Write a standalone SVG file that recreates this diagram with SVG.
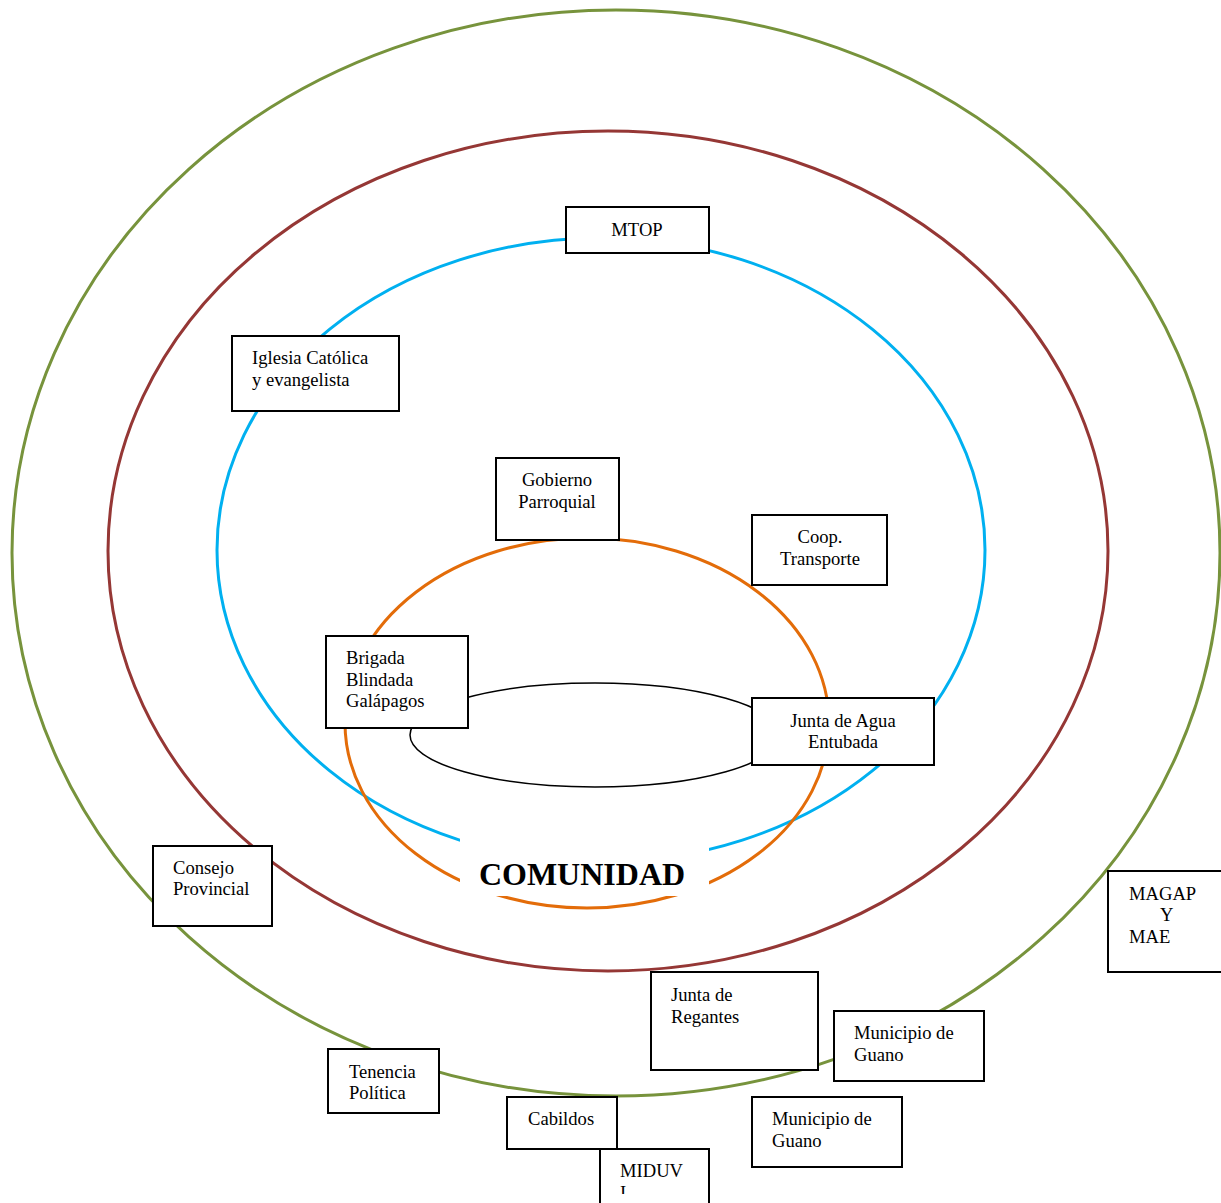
<svg xmlns="http://www.w3.org/2000/svg" width="1221" height="1203" viewBox="0 0 1221 1203">
<style>
.ring{fill:none;stroke-width:3}
.box rect{fill:#fff;stroke:#000;stroke-width:2}
.box text,.lbl{font-family:"Liberation Serif","Times New Roman",serif;font-size:18.6px;fill:#000}
.c{text-anchor:middle}
</style>
<defs>
<clipPath id="clipMid"><rect x="600" y="1149" width="110" height="45"/></clipPath>
</defs>
<rect width="1221" height="1203" fill="#fff"/>
<g id="connectors">
<ellipse class="ring" cx="616" cy="553" rx="604" ry="543" stroke="#77933C"/>
<ellipse class="ring" cx="608" cy="551" rx="500" ry="420" stroke="#953735"/>
<ellipse class="ring" cx="601" cy="550" rx="384" ry="312" stroke="#00B0F0"/>
<ellipse class="ring" cx="587" cy="723" rx="242" ry="185" stroke="#E36C09"/>
<ellipse cx="595" cy="735" rx="185" ry="52" fill="none" stroke="#000" stroke-width="1.5"/>
</g>
<g id="comunidad">
<rect x="460" y="838" width="249" height="58" fill="#fff"/>
<text x="582" y="885" text-anchor="middle" font-family="'Liberation Serif','Times New Roman',serif" font-size="32" font-weight="bold">COMUNIDAD</text>
</g>
<g id="mtop" class="box"><rect x="566" y="207" width="143" height="46"/><text class="c" x="637" y="236">MTOP</text></g>
<g id="iglesia" class="box"><rect x="232" y="336" width="167" height="75"/><text x="252" y="364">Iglesia Católica</text><text x="252" y="386">y evangelista</text></g>
<g id="gobierno" class="box"><rect x="496" y="458" width="123" height="82"/><text class="c" x="557" y="486">Gobierno</text><text class="c" x="557" y="508">Parroquial</text></g>
<g id="coop" class="box"><rect x="752" y="515" width="135" height="70"/><text class="c" x="820" y="543">Coop.</text><text class="c" x="820" y="565">Transporte</text></g>
<g id="brigada" class="box"><rect x="326" y="636" width="142" height="92"/><text x="346" y="664">Brigada</text><text x="346" y="686">Blindada</text><text x="346" y="707">Galápagos</text></g>
<g id="juntaagua" class="box"><rect x="752" y="698" width="182" height="67"/><text class="c" x="843" y="727">Junta de Agua</text><text class="c" x="843" y="748">Entubada</text></g>
<g id="consejo" class="box"><rect x="153" y="846" width="119" height="80"/><text x="173" y="874">Consejo</text><text x="173" y="895">Provincial</text></g>
<g id="magap" class="box"><rect x="1108" y="871" width="120" height="101"/><text x="1129" y="900">MAGAP</text><text x="1160" y="921">Y</text><text x="1129" y="943">MAE</text></g>
<g id="regantes" class="box"><rect x="651" y="972" width="167" height="98"/><text x="671" y="1001">Junta de</text><text x="671" y="1023">Regantes</text></g>
<g id="municipio1" class="box"><rect x="834" y="1011" width="150" height="70"/><text x="854" y="1039">Municipio de</text><text x="854" y="1061">Guano</text></g>
<g id="tenencia" class="box"><rect x="328" y="1049" width="111" height="64"/><text x="349" y="1078">Tenencia</text><text x="349" y="1099">Política</text></g>
<g id="cabildos" class="box"><rect x="507" y="1097" width="110" height="52"/><text x="528" y="1125">Cabildos</text></g>
<g id="municipio2" class="box"><rect x="752" y="1097" width="150" height="70"/><text x="772" y="1125">Municipio de</text><text x="772" y="1147">Guano</text></g>
<g id="miduvi" class="box"><rect x="600" y="1149" width="109" height="70"/><g clip-path="url(#clipMid)"><text x="620" y="1177">MIDUV</text><text x="620" y="1199">I</text></g></g>
</svg>
